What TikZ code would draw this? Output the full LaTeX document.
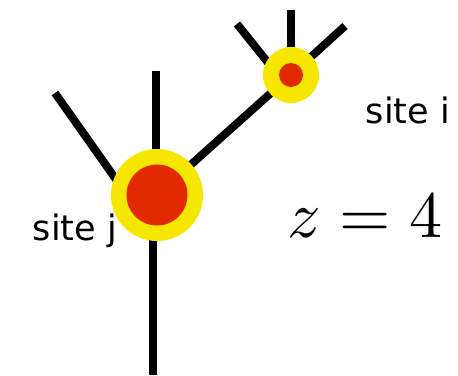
\documentclass[tikz,border=0pt]{standalone}
\usepackage{fontspec}
\setsansfont{DejaVu Sans}
\usetikzlibrary{backgrounds}
\definecolor{siteyellow}{RGB}{246,230,0}
\definecolor{sitered}{RGB}{226,42,0}
\tikzstyle{bond}      = [line width=8pt, black]
\tikzstyle{halo}      = [circle, fill=siteyellow, inner sep=0pt]
\tikzstyle{core}      = [circle, fill=sitered, inner sep=0pt]
\tikzstyle{sitelabel} = [font=\sffamily\fontsize{35}{35}\selectfont, inner sep=0pt]

\begin{document}
\begin{tikzpicture}[x=1pt, y=-1pt]
  \useasboundingbox (0,0) rectangle (458,375);

  % Free ends of the bonds
  \coordinate (jup)    at (156,71);
  \coordinate (jleft)  at (55,93);
  \coordinate (jleftin) at (127,195);
  \coordinate (jdown)  at (152.5,375);
  \coordinate (iup)    at (291,10);
  \coordinate (ileft)  at (237,24);
  \coordinate (ileftin) at (278,75);
  \coordinate (iright) at (345,26);

  % Site j
  \node[halo, minimum size=92pt] (j) at (157,195) {};
  \node[core, minimum size=61pt] (jcore) at (157,195) {};

  % Site i
  \node[halo, minimum size=56pt] (i) at (291,75) {};
  \node[core, minimum size=24pt] (icore) at (291,75) {};

  % Bonds
  \begin{scope}[on background layer]
    \draw[bond] (jup |- j.center) -- (jup);
    \draw[bond] (jleftin) -- (jleft);
    \draw[bond] (jdown |- j.center) -- (jdown);
    \draw[bond] (j.center) -- (i.center);
    \draw[bond] (i.center) -- (iup);
    \draw[bond] (ileftin) -- (ileft);
    \draw[bond] (i.center) -- (iright);
  \end{scope}

  % Labels
  \node[sitelabel, anchor=base] (ilabel) at (408,123) {site i};
  \node[sitelabel, anchor=base] (jlabel) at (75,240) {site j};
  \node[inner sep=0pt, anchor=base] (coord) at (365,237)
        {\scalebox{6.6}{$z=4$}};
\end{tikzpicture}
\end{document}
